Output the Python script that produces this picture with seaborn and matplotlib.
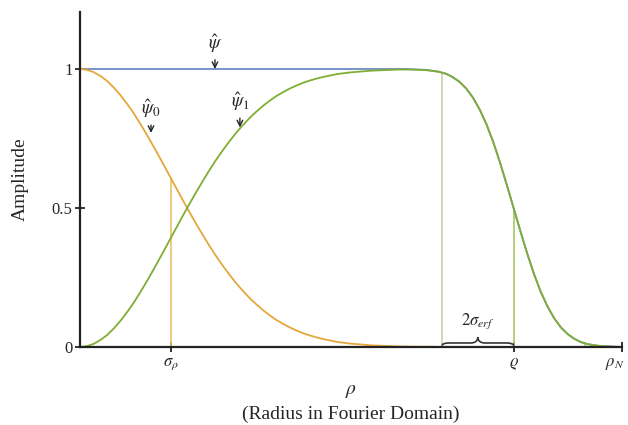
import numpy as np
import pandas as pd
import matplotlib.pyplot as plt
import matplotlib.transforms as mtransforms
import seaborn as sns
from matplotlib.path import Path
from matplotlib.patches import PathPatch

# radius samples (fraction of rho_N) and amplitudes
rho = [0.0000, 0.0125, 0.0250, 0.0375, 0.0500, 0.0625, 0.0750, 0.0875,
       0.1000, 0.1125, 0.1250, 0.1375, 0.1500, 0.1625, 0.1750, 0.1875,
       0.2000, 0.2125, 0.2250, 0.2375, 0.2500, 0.2625, 0.2750, 0.2875,
       0.3000, 0.3125, 0.3250, 0.3375, 0.3500, 0.3625, 0.3750, 0.3875,
       0.4000, 0.4125, 0.4250, 0.4375, 0.4500, 0.4625, 0.4750, 0.4875,
       0.5000, 0.5125, 0.5250, 0.5375, 0.5500, 0.5625, 0.5750, 0.5875,
       0.6000, 0.6125, 0.6250, 0.6375, 0.6500, 0.6625, 0.6750, 0.6875,
       0.7000, 0.7125, 0.7250, 0.7375, 0.7500, 0.7625, 0.7750, 0.7875,
       0.8000, 0.8125, 0.8250, 0.8375, 0.8500, 0.8625, 0.8750, 0.8875,
       0.9000, 0.9125, 0.9250, 0.9375, 0.9500, 0.9625, 0.9750, 0.9875,
       1.0000]
psi = [1.000, 1.000, 1.000, 1.000, 1.000, 1.000, 1.000, 1.000,
       1.000, 1.000, 1.000, 1.000, 1.000, 1.000, 1.000, 1.000,
       1.000, 1.000, 1.000, 1.000, 1.000, 1.000, 1.000, 1.000,
       1.000, 1.000, 1.000, 1.000, 1.000, 1.000, 1.000, 1.000,
       1.000, 1.000, 1.000, 1.000, 1.000, 1.000, 1.000, 1.000,
       1.000, 1.000, 1.000, 1.000, 1.000, 1.000, 1.000, 1.000,
       1.000, 0.999, 0.998, 0.997, 0.994, 0.990, 0.983, 0.971,
       0.954, 0.930, 0.897, 0.854, 0.801, 0.737, 0.663, 0.583,
       0.500, 0.417, 0.337, 0.263, 0.199, 0.146, 0.103, 0.070,
       0.046, 0.029, 0.017, 0.010, 0.006, 0.003, 0.002, 0.001,
       0.000]
psi0 = [1.000, 0.997, 0.989, 0.975, 0.957, 0.933, 0.905, 0.873,
        0.838, 0.799, 0.758, 0.715, 0.671, 0.626, 0.581, 0.536,
        0.492, 0.449, 0.408, 0.368, 0.330, 0.295, 0.262, 0.231,
        0.203, 0.177, 0.154, 0.133, 0.114, 0.097, 0.083, 0.070,
        0.059, 0.049, 0.041, 0.034, 0.028, 0.023, 0.018, 0.015,
        0.012, 0.010, 0.008, 0.006, 0.005, 0.004, 0.003, 0.002,
        0.002, 0.001, 0.001, 0.001, 0.001, 0.000, 0.000, 0.000,
        0.000, 0.000, 0.000, 0.000, 0.000, 0.000, 0.000, 0.000,
        0.000, 0.000, 0.000, 0.000, 0.000, 0.000, 0.000, 0.000,
        0.000, 0.000, 0.000, 0.000, 0.000, 0.000, 0.000, 0.000,
        0.000]
psi1 = [0.000, 0.003, 0.011, 0.025, 0.043, 0.067, 0.095, 0.127,
        0.162, 0.201, 0.242, 0.285, 0.329, 0.374, 0.419, 0.464,
        0.508, 0.551, 0.592, 0.632, 0.670, 0.705, 0.738, 0.769,
        0.797, 0.823, 0.846, 0.867, 0.886, 0.903, 0.917, 0.930,
        0.941, 0.951, 0.959, 0.966, 0.972, 0.977, 0.982, 0.985,
        0.988, 0.990, 0.992, 0.994, 0.995, 0.996, 0.997, 0.998,
        0.998, 0.998, 0.997, 0.996, 0.993, 0.990, 0.983, 0.971,
        0.954, 0.930, 0.897, 0.854, 0.801, 0.737, 0.663, 0.583,
        0.500, 0.417, 0.337, 0.263, 0.199, 0.146, 0.103, 0.070,
        0.046, 0.029, 0.017, 0.010, 0.006, 0.003, 0.002, 0.001,
        0.000]

sigma_rho = 0.168
varrho = 0.80
two_sigma_erf = 0.132

# vertical guide lines: position, height
guide_x = [sigma_rho, varrho - two_sigma_erf, varrho, varrho + two_sigma_erf]
guide_top = [0.607, 0.988, 0.500, 0.012]
guide_col = ['#e6c46a', '#c9d2ae', '#a9c46a', '#b9cf86']

xtick_pos = [sigma_rho, varrho, 1.0]
xtick_lab = [r'$\sigma_\rho$', r'$\varrho$', r'$\rho_N$']
ytick_pos = [0, 0.5, 1]
ytick_lab = ['0', '0.5', '1']

df = pd.DataFrame({
    'rho': rho * 3,
    'amp': psi + psi0 + psi1,
    'curve': ['psi'] * len(rho) + ['psi0'] * len(rho) + ['psi1'] * len(rho),
})
palette = {'psi': '#6d8cc4', 'psi0': '#e5a73c', 'psi1': '#7fae32'}

sns.set_theme(style='ticks')
plt.rcParams['font.family'] = ['Liberation Serif', 'DejaVu Serif']
plt.rcParams['mathtext.fontset'] = 'stix'

fig = plt.figure(figsize=(6.28, 4.25), dpi=100)
ax = fig.add_axes([80 / 628, 1 - 347 / 425, 542 / 628, 335 / 425])

for gx, gt, gc in zip(guide_x, guide_top, guide_col):
    ax.vlines(gx, 0, gt, color=gc, lw=1.2, zorder=1)

sns.lineplot(data=df, x='rho', y='amp', hue='curve', palette=palette,
             hue_order=['psi', 'psi0', 'psi1'], lw=1.3, legend=False, ax=ax,
             sort=False, estimator=None)

ax.set_xlim(0, 1.0)
ax.set_ylim(0, 1.205)
ax.set_xticks(xtick_pos, xtick_lab, fontsize=12)
ax.set_yticks(ytick_pos, ytick_lab, fontsize=12)
ax.tick_params(direction='inout', length=7, width=1.3, color='#222222', pad=2)
ax.tick_params(axis='x', pad=3)
for s in ['top', 'right']:
    ax.spines[s].set_visible(False)
for s in ['left', 'bottom']:
    ax.spines[s].set_linewidth(1.6)
    ax.spines[s].set_color('#222222')

# keep the rho_N label inside the picture
lab = ax.get_xticklabels()[-1]
lab.set_transform(lab.get_transform() +
                  mtransforms.ScaledTranslation(-7 / 100, 0, fig.dpi_scale_trans))

ax.set_xlabel('$\\rho$\n(Radius in Fourier Domain)', fontsize=14, labelpad=8,
              linespacing=1.4)
ax.set_ylabel('Amplitude', fontsize=14, labelpad=16)

# labels with small arrows
notes = [(r'$\hat{\psi}$', 0.249, 1.0, 10),
         (r'$\hat{\psi}_0$', 0.131, 0.77, 9),
         (r'$\hat{\psi}_1$', 0.295, 0.79, 10)]
for txt, nx, ny, off in notes:
    ax.annotate(txt, xy=(nx, ny), xytext=(0, off), textcoords='offset points',
                ha='center', va='bottom', fontsize=13.5,
                arrowprops=dict(arrowstyle='->', color='#222222', lw=1.0,
                                shrinkA=1, shrinkB=0, mutation_scale=10))

# curly brace for 2 sigma_erf
a, b = varrho - two_sigma_erf, varrho
m = (a + b) / 2
q = (b - a) * 0.1
y0, y1, y2 = 0.004, 0.012, 0.03
tr = ax.get_xaxis_transform()
for s in (1, -1):
    e = a if s == 1 else b
    verts = [(e, y0), (e, y1), (e + s * q, y1), (m - s * q, y1), (m, y1), (m, y2)]
    codes = [Path.MOVETO, Path.CURVE3, Path.CURVE3, Path.LINETO, Path.CURVE3, Path.CURVE3]
    ax.add_patch(PathPatch(Path(verts, codes), fill=False, lw=1.2,
                           edgecolor='#333333', transform=tr, clip_on=False))
ax.text(m, 0.058, r'$2\sigma_{erf}$', ha='center', va='bottom', fontsize=12)

fig.savefig('out.png', dpi=100)
